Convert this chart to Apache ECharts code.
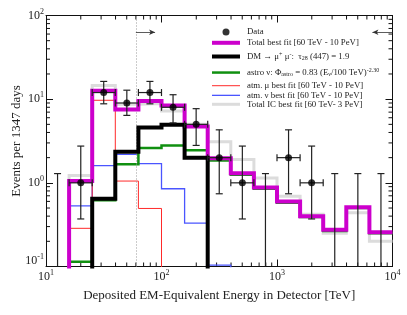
<!DOCTYPE html>
<html>
<head>
<meta charset="utf-8">
<script src="https://cdn.jsdelivr.net/npm/echarts@6/dist/echarts.min.js"></script>
<style>html,body{margin:0;padding:0;background:#fff}#c{width:407px;height:315px}</style>
</head>
<body>
<div id="c"></div>
<script>
// ---- data ----
const binEdges = [10, 15.85, 25.12, 39.81, 63.10, 100, 158.5, 251.2, 398.1, 631.0, 1000, 1585, 2512, 3981, 6310, 10000];
const totalFit = [0.001, 1.05, 12.6, 7.5, 9.5, 8.4, 4.7, 1.97, 1.30, 0.88, 0.60, 0.40, 0.275, 0.51, 0.256];
const dmFit    = [0.001, 0.001, 0.645, 2.36, 4.6, 4.95, 2.0, 0.001, 0.001, 0.001, 0.001, 0.001, 0.001, 0.001, 0.001];
const astroFit = [0.001, 0.114, 0.62, 1.67, 2.6, 2.8, 2.45, 1.85, 1.25, 0.85, 0.58, 0.39, 0.265, 0.5, 0.25];
const atmMuFit = [0.001, 0.286, 9.7, 1.05, 0.494, 0.001, 0.001, 0.001, 0.001, 0.001, 0.001, 0.001, 0.001, 0.001, 0.001];
const atmNuFit = [0.001, 0.53, 1.61, 2.19, 1.70, 0.85, 0.33, 0.104, 0.04, 0.02, 0.01, 0.005, 0.003, 0.002, 0.001];
const totalIC  = [0.001, 1.22, 14.6, 8.7, 8.9, 7.2, 5.0, 3.1, 1.9, 1.14, 0.69, 0.42, 0.25, 0.44, 0.2];

const dataCenters = [20.0, 31.6, 50.1, 79.4, 125.9, 199.5, 316.2, 501.2, 1259, 1995];
const dataCounts  = [1, 12, 9, 12, 8, 5, 2, 1, 2, 1];
const errLow      = [0.37, 8.8, 6.4, 8.8, 5.2, 2.8, 0.74, 0.37, 0.74, 0.37];
const errHigh     = [2.75, 16.3, 12.8, 16.3, 11.3, 7.7, 4.3, 2.75, 4.3, 2.75];
const binLow      = [15.85, 25.12, 39.81, 63.10, 100, 158.5, 251.2, 398.1, 1000, 1585];
const binHigh     = [25.12, 39.81, 63.10, 100, 158.5, 251.2, 398.1, 631.0, 1585, 2512];
const zeroCenters = [12.59, 794.3, 3162, 5012, 7943];
const zeroUpper   = [1.29, 1.29, 1.29, 1.29, 1.29];

const thresholdTeV = 60;
const arrowY = 63;
const leftArrow = [60, 88];
const rightArrow = [10000, 6700];

const xMinorTicks = [20,30,40,50,60,70,80,90,200,300,400,500,600,700,800,900,2000,3000,4000,5000,6000,7000,8000,9000];
const yMinorTicks = [0.2,0.3,0.4,0.5,0.6,0.7,0.8,0.9,2,3,4,5,6,7,8,9,20,30,40,50,60,70,80,90];

// ---- helpers ----
const SERIF = 'Liberation Serif, DejaVu Serif, serif';
function stepData(vals) {
  const out = vals.map((v, i) => [binEdges[i], v]);
  out.push([binEdges[binEdges.length - 1], vals[vals.length - 1]]);
  return out;
}
function stepSeries(name, vals, color, width, z) {
  return {
    name: name, type: 'line', step: 'end', data: stepData(vals),
    symbol: 'none', showSymbol: false, z: z,
    lineStyle: { color: color, width: width, join: 'miter', cap: 'butt' },
    itemStyle: { color: color }, silent: true
  };
}
function supLabel(v) {
  const e = Math.round(Math.log10(v));
  return '{b|10}{s|' + e + '}';
}
const axisRich = {
  b: { fontSize: 12, fontFamily: SERIF, color: '#222' },
  s: { fontSize: 8, fontFamily: SERIF, color: '#222', padding: [0, 0, 8, 0] },
  bl: { fontSize: 12, fontFamily: SERIF, color: '#222', padding: [0, 0, 12, 0] },
  sl: { fontSize: 8, fontFamily: SERIF, color: '#222', padding: [0, 0, 20, 0] }
};
const LF = 8.8;
const legendRich = {
  n: { fontSize: LF, fontFamily: SERIF, color: '#222' },
  sup: { fontSize: 6, fontFamily: SERIF, color: '#222', padding: [0, 0, 5, 0] },
  sub: { fontSize: 6, fontFamily: SERIF, color: '#222', padding: [4, 0, 0, 0] }
};
const legendText = {
  'DM': '{n|DM → μ}{sup|+}{n| μ}{sup|-}{n|:  τ}{sub|28}{n| (447) = 1.9}',
  'astro': '{n|astro ν: Φ}{sub|astro}{n| = 0.83 (E}{sub|ν}{n|/100 TeV)}{sup|-2.30}'
};
function mkLegend(name, y, h, icon, left, w, pad) {
  return {
    data: [{ name: name, icon: icon }], left: left, top: y - h / 2, padding: 0,
    itemWidth: w, itemHeight: h, itemGap: 0,
    selectedMode: false,
    textStyle: { fontSize: LF, fontFamily: SERIF, color: '#222', rich: legendRich, padding: [0, 0, 0, pad] },
    formatter: function (n) { return legendText[n] || ('{n|' + n + '}'); }
  };
}

const NAME_TOTAL = 'Total best fit [60 TeV - 10 PeV]';
const NAME_MU = 'atm. μ best fit [60 TeV - 10 PeV]';
const NAME_NU = 'atm. ν best fit [60 TeV - 10 PeV]';
const NAME_IC = 'Total IC best fit [60 TeV- 3 PeV]';

const chart = echarts.init(document.getElementById('c'), null, { renderer: 'canvas' });

const axisCommon = {
  type: 'log', logBase: 10,
  axisLine: { show: true, lineStyle: { color: '#111', width: 1 } },
  axisTick: { show: true, inside: true, length: 7, lineStyle: { color: '#111', width: 1 } },
  minorTick: { show: false },
  splitLine: { show: false },
  nameMoveOverlap: false
};

const option = {
  animation: false,
  backgroundColor: '#fff',
  grid: { left: 46, right: 14.5, top: 15.5, bottom: 48.5, containLabel: false, outerBoundsMode: 'none' },
  xAxis: [
    Object.assign({}, axisCommon, {
      min: 10, max: 10000, position: 'bottom',
      name: 'Deposited EM-Equivalent Energy in Detector [TeV]',
      nameLocation: 'middle', nameGap: 23,
      nameTextStyle: { fontSize: 13, fontFamily: SERIF, color: '#222' },
      axisLabel: { margin: 2, formatter: supLabel, rich: axisRich }
    }),
    Object.assign({}, axisCommon, {
      min: 10, max: 10000, position: 'top', axisLabel: { show: false }
    })
  ],
  yAxis: [
    Object.assign({}, axisCommon, {
      min: 0.1, max: 100, position: 'left',
      name: 'Events per 1347 days',
      nameLocation: 'middle', nameGap: 23,
      nameTextStyle: { fontSize: 13, fontFamily: SERIF, color: '#222' },
      axisLabel: {
        margin: 2, rich: axisRich,
        formatter: function (v) {
          const e = Math.round(Math.log10(v));
          if (e === -1) return '{bl|10}{sl|' + e + '}';
          return '{b|10}{s|' + e + '}';
        }
      }
    }),
    Object.assign({}, axisCommon, {
      min: 0.1, max: 100, position: 'right', axisLabel: { show: false }
    })
  ],
  legend: [
    mkLegend('Data', 31, 7, 'circle', 222.5, 7, 12.5),
    mkLegend(NAME_TOTAL, 40.3, 4, 'rect', 212, 28, 2),
    mkLegend('DM', 53, 4, 'rect', 212, 28, 2),
    mkLegend('astro', 68.3, 2.5, 'rect', 212, 28, 2),
    mkLegend(NAME_MU, 81.7, 1, 'rect', 212, 28, 2),
    mkLegend(NAME_NU, 91.5, 1.3, 'rect', 212, 28, 2),
    mkLegend(NAME_IC, 101.3, 3, 'rect', 212, 28, 2)
  ],
  series: [
    // minor ticks (x)
    {
      type: 'custom', silent: true, z: 1,
      data: xMinorTicks.map(v => [v, 1]),
      encode: { x: 0, y: 1 },
      renderItem: function (params, api) {
        const v = api.value(0);
        const b = api.coord([v, 0.1]);
        const t = api.coord([v, 100]);
        const st = { stroke: '#111', lineWidth: 1 };
        return { type: 'group', children: [
          { type: 'line', shape: { x1: b[0], y1: b[1], x2: b[0], y2: b[1] - 4 }, style: st },
          { type: 'line', shape: { x1: t[0], y1: t[1], x2: t[0], y2: t[1] + 4 }, style: st }
        ] };
      }
    },
    // minor ticks (y)
    {
      type: 'custom', silent: true, z: 1,
      data: yMinorTicks.map(v => [100, v]),
      encode: { x: 0, y: 1 },
      renderItem: function (params, api) {
        const v = api.value(1);
        const l = api.coord([10, v]);
        const r = api.coord([10000, v]);
        const st = { stroke: '#111', lineWidth: 1 };
        return { type: 'group', children: [
          { type: 'line', shape: { x1: l[0], y1: l[1], x2: l[0] + 4, y2: l[1] }, style: st },
          { type: 'line', shape: { x1: r[0], y1: r[1], x2: r[0] - 4, y2: r[1] }, style: st }
        ] };
      }
    },
    stepSeries(NAME_IC, totalIC, '#dcdcdc', 3, 2),
    stepSeries(NAME_NU, atmNuFit, '#4a55ff', 1.3, 3),
    stepSeries(NAME_MU, atmMuFit, '#ff2a2a', 1, 3),
    stepSeries('astro', astroFit, '#109010', 2.5, 4),
    stepSeries(NAME_TOTAL, totalFit, '#cc00cc', 4, 5),
    stepSeries('DM', dmFit, '#000000', 4, 6),
    // threshold marker line + arrows
    {
      type: 'line', data: [], silent: true, z: 7,
      markLine: {
        silent: true, animation: false, symbol: ['none', 'none'],
        label: { show: false },
        lineStyle: { color: '#999', type: [1, 2], width: 1 },
        data: [
          { xAxis: thresholdTeV },
          [ { coord: [leftArrow[0], arrowY], symbol: 'none', lineStyle: { type: 'solid', color: '#333', width: 0.8 } },
            { coord: [leftArrow[1], arrowY], symbol: 'arrow', symbolSize: [4, 6] } ],
          [ { coord: [rightArrow[0], arrowY], symbol: 'none', lineStyle: { type: 'solid', color: '#333', width: 0.8 } },
            { coord: [rightArrow[1], arrowY], symbol: 'arrow', symbolSize: [4, 6] } ]
        ]
      }
    },
    // zero-count upper limits
    {
      type: 'custom', silent: true, z: 8,
      data: zeroCenters.map((x, i) => [x, zeroUpper[i]]),
      encode: { x: 0, y: 1 },
      renderItem: function (params, api) {
        const x = api.value(0), hi = api.value(1);
        const b = api.coord([x, 0.1]);
        const t = api.coord([x, hi]);
        const st = { stroke: '#222', lineWidth: 1.2 };
        return { type: 'group', children: [
          { type: 'line', shape: { x1: b[0], y1: b[1], x2: t[0], y2: t[1] }, style: st },
          { type: 'line', shape: { x1: t[0] - 3.5, y1: t[1], x2: t[0] + 3.5, y2: t[1] }, style: st }
        ] };
      }
    },
    // data error bars
    {
      type: 'custom', silent: true, z: 8,
      data: dataCenters.map((x, i) => [x, dataCounts[i], errLow[i], errHigh[i], binLow[i], binHigh[i]]),
      encode: { x: 0, y: 1 },
      renderItem: function (params, api) {
        const x = api.value(0), y = api.value(1);
        const lo = api.coord([x, api.value(2)]);
        const hi = api.coord([x, api.value(3)]);
        const l = api.coord([api.value(4), y]);
        const r = api.coord([api.value(5), y]);
        const st = { stroke: '#222', lineWidth: 1.2 };
        const c = 3.5;
        return { type: 'group', children: [
          { type: 'line', shape: { x1: lo[0], y1: lo[1], x2: hi[0], y2: hi[1] }, style: st },
          { type: 'line', shape: { x1: lo[0] - c, y1: lo[1], x2: lo[0] + c, y2: lo[1] }, style: st },
          { type: 'line', shape: { x1: hi[0] - c, y1: hi[1], x2: hi[0] + c, y2: hi[1] }, style: st },
          { type: 'line', shape: { x1: l[0], y1: l[1], x2: r[0], y2: r[1] }, style: st },
          { type: 'line', shape: { x1: l[0], y1: l[1] - c, x2: l[0], y2: l[1] + c }, style: st },
          { type: 'line', shape: { x1: r[0], y1: r[1] - c, x2: r[0], y2: r[1] + c }, style: st }
        ] };
      }
    },
    {
      name: 'Data', type: 'scatter', z: 9, silent: true,
      symbol: 'circle', symbolSize: 7,
      itemStyle: { color: '#000' },
      data: dataCenters.map((x, i) => [x, dataCounts[i]])
    }
  ]
};
chart.setOption(option);
</script>
</body>
</html>
